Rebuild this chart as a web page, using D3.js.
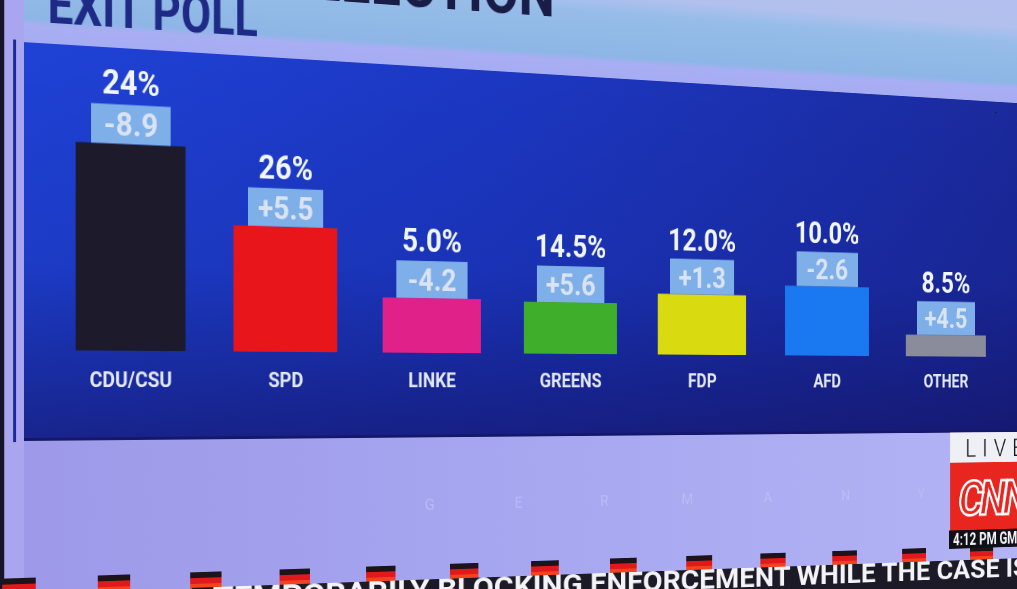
<!DOCTYPE html>
<html><head><meta charset="utf-8">
<title>Exit Poll</title>
<script src="https://cdn.jsdelivr.net/npm/d3@7/dist/d3.min.js"></script>
<style>
html,body{margin:0;padding:0;background:#15131d;}
#stage{position:relative;width:1017px;height:589px;overflow:hidden;background:#15131d;}
#scene{position:absolute;left:0;top:-200px;transform-origin:22px 590px;transform:perspective(1000px) rotateY(10deg);}
text{font-family:Roboto,"Liberation Sans",Arial,sans-serif;}
</style></head>
<body><div id="stage"><svg id="scene" width="1400" height="860"></svg></div>
<script>
// ---- data ----
const parties = ["CDU/CSU", "SPD", "LINKE", "GREENS", "FDP", "AFD", "OTHER"];
const shareLabels = ["24%", "26%", "5.0%", "14.5%", "12.0%", "10.0%", "8.5%"];
const changes = [-8.9, 5.5, -4.2, 5.6, 1.3, -2.6, 4.5];
// bar heights as drawn on screen (previous result, in %)
const barValues = [32.9, 20.5, 9.2, 8.9, 10.7, 12.6, 4.0];
const barColors = ["#1d1b2b", "#e8151a", "#e0218a", "#3fae2b", "#d9da10", "#1a78f0", "#8a8c9c"];
const tickerText = ["TEMPORARILY BLOCKING ", "ENFORCEMENT WHILE THE CASE IS SETTLED"];

const fmtChange = d3.formatLocale({decimal: ".", thousands: ",", grouping: [3], currency: ["", ""], minus: "-"}).format("+.1f");

const svg = d3.select("#scene");
const defs = svg.append("defs");

function linGrad(id, x1, y1, x2, y2, stops) {
  const g = defs.append("linearGradient").attr("id", id)
    .attr("x1", x1).attr("y1", y1).attr("x2", x2).attr("y2", y2);
  stops.forEach(s => g.append("stop").attr("offset", s[0]).attr("stop-color", s[1]).attr("stop-opacity", s[2] == null ? 1 : s[2]));
}
linGrad("panelH", 0, 0, 1, 0, [[0, "#1f42d6"], [0.35, "#1c38c4"], [0.75, "#1b2da6"], [1, "#1a2590"]]);
linGrad("panelV", 0, 0, 0, 1, [[0, "#000040", 0], [0.55, "#0a0a50", 0.12], [1, "#120c50", 0.55]]);
linGrad("topBand", 0, 0, 0, 1, [[0, "#b9bef0"], [0.62, "#b2c0ee"], [0.7, "#96bde8"], [0.9, "#8db6e6"], [0.93, "#a9aef3"], [1, "#a6acf2"]]);
linGrad("bottomArea", 0, 0, 1, 0, [[0, "#9c98e8"], [0.45, "#a8a8f1"], [1, "#b6b7f6"]]);

const root = svg.append("g").attr("transform", "translate(0,200)");

// ---- screen background ----
root.append("rect").attr("x", -40).attr("y", -200).attr("width", 1500).attr("height", 242).attr("fill", "url(#topBand)");
root.append("rect").attr("x", -40).attr("y", 440).attr("width", 1500).attr("height", 240).attr("fill", "url(#bottomArea)");
root.append("rect").attr("x", -40).attr("y", -200).attr("width", 44).attr("height", 880).attr("fill", "#17142a");
root.append("rect").attr("x", 4).attr("y", -200).attr("width", 20).attr("height", 880).attr("fill", "#a9a6ef");
root.append("rect").attr("x", 13).attr("y", 40).attr("width", 3).attr("height", 402).attr("fill", "#1c2898");

// titles
root.append("g").attr("transform", "translate(48,21) scale(0.86,1)")
  .append("text").attr("font-size", 55).attr("font-weight", 700).attr("fill", "#1f2a86").text("EXIT POLL");
root.append("g").attr("transform", "translate(619,-22) scale(0.95,1)")
  .append("text").attr("text-anchor", "end").attr("font-size", 66).attr("font-weight", 700).attr("fill", "#1a1c48").text("ELECTION");

// panel
root.append("rect").attr("x", 24).attr("y", 42).attr("width", 1400).attr("height", 398).attr("fill", "url(#panelH)");
root.append("rect").attr("x", 24).attr("y", 42).attr("width", 1400).attr("height", 398).attr("fill", "url(#panelV)");
root.append("rect").attr("x", 24).attr("y", 438).attr("width", 1400).attr("height", 3).attr("fill", "#15186a");

// ---- chart ----
const x = d3.scaleBand().domain(parties).range([51, 1227]).paddingInner(0.31).paddingOuter(0.155);
const y = d3.scaleLinear().domain([0, 40]).range([350, 94]);
const boxW = 84, boxH = 40;

const rows = parties.map((p, i) => ({party: p, share: shareLabels[i], change: changes[i], bar: barValues[i], color: barColors[i]}));
const item = root.append("g").selectAll("g").data(rows).join("g");

item.append("rect")
  .attr("x", d => x(d.party)).attr("width", x.bandwidth())
  .attr("y", d => y(d.bar)).attr("height", d => y(0) - y(d.bar))
  .attr("fill", d => d.color);

item.append("rect")
  .attr("x", d => x(d.party) + x.bandwidth() / 2 - boxW / 2).attr("width", boxW)
  .attr("y", d => y(d.bar) - boxH).attr("height", boxH)
  .attr("fill", "#7eafe8");

item.append("g")
  .attr("transform", d => `translate(${x(d.party) + x.bandwidth() / 2},${y(d.bar) - boxH + 32}) scale(0.95,1)`)
  .append("text").attr("text-anchor", "middle").attr("font-size", 33).attr("font-weight", 700)
  .attr("fill", "#d9e3f2").text(d => fmtChange(d.change));

item.append("g")
  .attr("transform", d => `translate(${x(d.party) + x.bandwidth() / 2},${y(d.bar) - boxH - 10}) scale(0.9,1)`)
  .append("text").attr("text-anchor", "middle").attr("font-size", 36).attr("font-weight", 700)
  .attr("fill", "#f1f5fc").text(d => d.share);

item.append("g")
  .attr("transform", d => `translate(${x(d.party) + x.bandwidth() / 2},387) scale(0.93,1)`)
  .append("text").attr("text-anchor", "middle").attr("font-size", 22).attr("font-weight", 700)
  .attr("fill", "#e2e8f6").text(d => d.party);

// ---- lower screen decoration ----
"GERMANY".split("").forEach((c, i) => {
  root.append("text").attr("x", 468 + i * 106.5).attr("y", 519).attr("text-anchor", "middle")
    .attr("font-size", 17).attr("fill", "#b9bbf7").text(c);
});
for (let i = 0; i < 13; i++) {
  const fx = 2 + i * 98;
  root.append("rect").attr("x", fx).attr("y", 578).attr("width", 34).attr("height", 6).attr("fill", "#1c1418");
  root.append("rect").attr("x", fx).attr("y", 584).attr("width", 34).attr("height", 6).attr("fill", "#e01a1c");
  root.append("rect").attr("x", fx).attr("y", 590).attr("width", 34).attr("height", 6).attr("fill", "#f2431e");
}
// ticker
root.append("rect").attr("x", 200).attr("y", 594).attr("width", 1300).attr("height", 90).attr("fill", "#1b1a26");
const tkG = root.append("g").attr("transform", "translate(663,616) scale(1.15,1)");
const tk = tkG.append("text").attr("font-size", 32).attr("font-weight", 700).attr("fill", "#f4f4f8");
const t1 = tk.append("tspan").text(tickerText[0]);
tk.append("tspan").text(tickerText[1]);
tk.attr("x", -t1.node().getComputedTextLength());

// CNN box
const cx0 = 1149;
root.append("rect").attr("x", cx0).attr("y", 441).attr("width", 200).attr("height", 36).attr("fill", "#eff0f6");
root.append("text").attr("x", cx0 + 22).attr("y", 470).attr("font-size", 30).attr("font-weight", 300)
  .attr("letter-spacing", 9).attr("fill", "#111").text("LIVE");
root.append("rect").attr("x", cx0).attr("y", 477).attr("width", 200).attr("height", 81).attr("fill", "#e8251f");
root.append("text").attr("x", cx0 + 12).attr("y", 540).attr("font-size", 58).attr("font-weight", 700)
  .attr("font-style", "italic").attr("letter-spacing", -6)
  .attr("fill", "#e8251f").attr("stroke", "#ffffff").attr("stroke-width", 3).text("CNN");
root.append("rect").attr("x", cx0 - 2).attr("y", 558).attr("width", 202).attr("height", 22).attr("fill", "#0f0f16");
root.append("g").attr("transform", `translate(${cx0 + 4},576) scale(0.85,1)`)
  .append("text").attr("font-size", 20).attr("font-weight", 700).attr("fill", "#f4f4f8").text("4:12 PM GMT");
</script>
</body></html>
